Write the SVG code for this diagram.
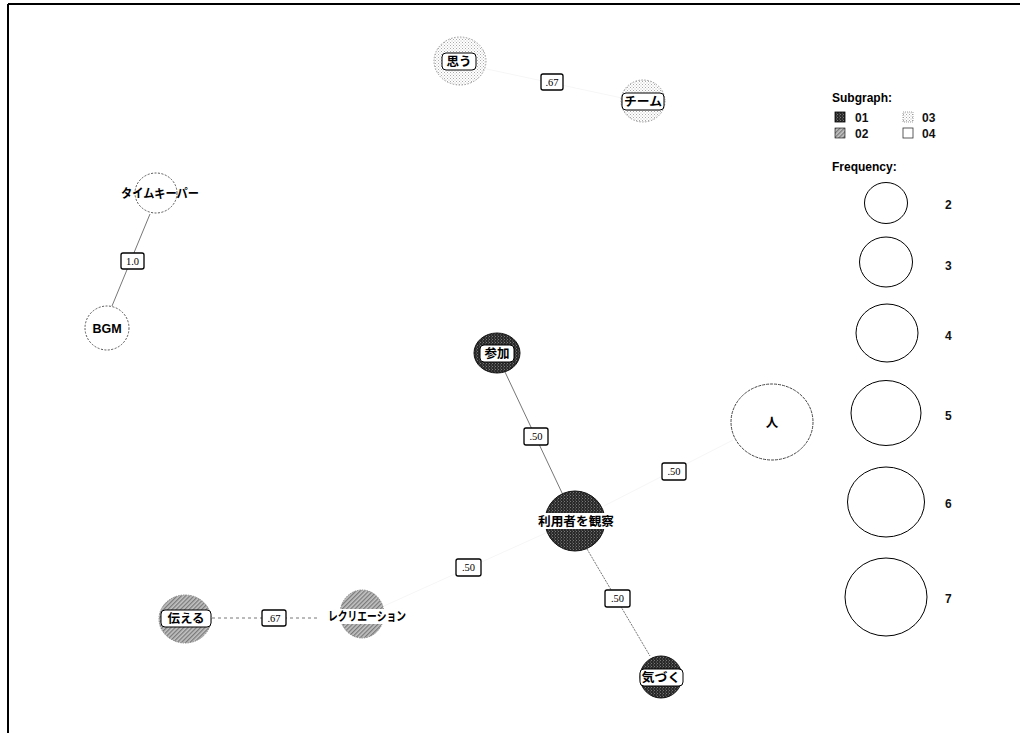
<svg xmlns="http://www.w3.org/2000/svg" width="1020" height="733" viewBox="0 0 1020 733">
<style>
.nt{font-family:"Liberation Sans","Noto Sans CJK JP",sans-serif;font-size:12.5px;font-weight:bold;fill:#000;text-anchor:middle}
.el{font-family:"Liberation Serif",serif;font-size:10.5px;fill:#000;text-anchor:middle}
.lb{fill:#fff;stroke:#000;stroke-width:1.3}
.tb{fill:#fff;stroke:#000;stroke-width:1}
.edge{stroke:#777;stroke-width:1;fill:none}
.faint{stroke:#f6f6f6;stroke-width:1;fill:none}
.lg{font-family:"Liberation Sans",sans-serif;font-size:12px;font-weight:bold;fill:#111}
.lgh{font-family:"Liberation Sans",sans-serif;font-size:12px;font-weight:bold;fill:#000}
.fc{fill:none;stroke:#000;stroke-width:1}
.n03{fill:url(#p03);stroke:#999;stroke-width:1;stroke-dasharray:1.5 1.5}
.n04{fill:#fff;stroke:#555;stroke-width:1;stroke-dasharray:2 1.5}
.n01{fill:url(#p01);stroke:#111;stroke-width:1}
.n02{fill:url(#p02);stroke:#888;stroke-width:1;stroke-dasharray:1.5 1}
</style>
<defs>
<pattern id="p01" width="3" height="3" patternUnits="userSpaceOnUse">
<rect width="3" height="3" fill="#2a2a2a"/>
<rect x="0" y="0" width="1" height="1" fill="#777"/>
<rect x="2" y="1.5" width="1" height="1" fill="#666"/>
</pattern>
<pattern id="p02" width="3" height="3" patternUnits="userSpaceOnUse" patternTransform="rotate(45)">
<rect width="3" height="3" fill="#c4c4c4"/>
<rect width="1.3" height="3" fill="#7a7a7a"/>
</pattern>
<pattern id="p03" width="3" height="3" patternUnits="userSpaceOnUse">
<rect width="3" height="3" fill="#fff"/>
<rect x="0" y="0" width="1" height="1" fill="#aaa"/>
<rect x="1.5" y="1.5" width="1" height="1" fill="#bbb"/>
</pattern>
</defs>
<rect width="1020" height="733" fill="#fff"/>
<path d="M8 4 H1020 M8 4 V733" stroke="#000" stroke-width="2" fill="none"/>

<g id="connectors">
<line class="edge" x1="150" y1="214" x2="112" y2="306"/>
<line class="edge" x1="505" y1="372" x2="563" y2="495"/>
<line class="edge" x1="587" y1="549" x2="650" y2="656" stroke-dasharray="2 1"/>
<line class="edge" x1="212" y1="618" x2="320" y2="618" stroke-dasharray="3 3"/>
<line class="faint" x1="482" y1="68" x2="622" y2="98"/>
<line class="faint" x1="604" y1="506" x2="733" y2="440"/>
<line class="faint" x1="548" y1="532" x2="384" y2="606"/>
<g id="el1"><rect class="lb" x="541" y="74" width="22" height="16" rx="2"/><text class="el" x="552" y="86">.67</text></g>
<g id="el2"><rect class="lb" x="121" y="253" width="23" height="16" rx="2"/><text class="el" x="132.5" y="265">1.0</text></g>
<g id="el3"><rect class="lb" x="524" y="428" width="24" height="17" rx="2"/><text class="el" x="536" y="440">.50</text></g>
<g id="el4"><rect class="lb" x="662" y="463" width="24" height="17" rx="2"/><text class="el" x="674" y="475">.50</text></g>
<g id="el5"><rect class="lb" x="456" y="559" width="25" height="17" rx="2"/><text class="el" x="468.5" y="571">.50</text></g>
<g id="el6"><rect class="lb" x="605" y="590" width="25" height="17" rx="2"/><text class="el" x="617.5" y="602">.50</text></g>
<g id="el7"><rect class="lb" x="262" y="610" width="24" height="16" rx="2"/><text class="el" x="274" y="622">.67</text></g>
</g>

<g id="node-omou"><ellipse class="n03" cx="460" cy="61" rx="26" ry="24"/><rect class="tb" x="442" y="53" width="34" height="17" rx="4"/><text class="nt" x="459" y="66">思う</text></g>
<g id="node-team"><ellipse class="n03" cx="643" cy="101" rx="22" ry="21"/><rect class="tb" x="622" y="93" width="42" height="17" rx="4"/><text class="nt" x="643" y="106" textLength="38" lengthAdjust="spacingAndGlyphs">チーム</text></g>
<g id="node-timekeeper"><ellipse class="n04" cx="156" cy="193" rx="21" ry="20"/><text class="nt" x="160" y="198" textLength="78" lengthAdjust="spacingAndGlyphs">タイムキーパー</text></g>
<g id="node-bgm"><ellipse class="n04" cx="107" cy="328" rx="22" ry="22"/><text class="nt" x="107" y="333" font-size="11">BGM</text></g>
<g id="node-sanka"><ellipse class="n01" cx="497" cy="353" rx="23" ry="20"/><rect class="tb" x="480" y="345" width="34" height="17" rx="4"/><text class="nt" x="497" y="358">参加</text></g>
<g id="node-riyousha"><ellipse class="n01" cx="575" cy="521" rx="30" ry="30"/><rect fill="#fff" x="538" y="513" width="76" height="16"/><text class="nt" x="576" y="526" textLength="76" lengthAdjust="spacingAndGlyphs">利用者を観察</text></g>
<g id="node-kizuku"><ellipse class="n01" cx="661" cy="677" rx="21" ry="21"/><rect class="tb" x="640" y="669" width="43" height="17" rx="4"/><text class="nt" x="661" y="682" textLength="39" lengthAdjust="spacingAndGlyphs">気づく</text></g>
<g id="node-hito"><ellipse cx="772" cy="422" rx="41" ry="38" fill="#fff" stroke="#444" stroke-width="1" stroke-dasharray="3 1"/><text class="nt" x="772" y="427">人</text></g>
<g id="node-tsutaeru"><ellipse class="n02" cx="185" cy="619" rx="26" ry="24"/><rect class="tb" x="161" y="610" width="50" height="17" rx="4"/><text class="nt" x="186" y="623">伝える</text></g>
<g id="node-recreation"><ellipse class="n02" cx="362" cy="614" rx="22" ry="24"/><rect fill="#fff" x="328" y="609" width="78" height="15"/><text class="nt" x="367" y="621" textLength="78" lengthAdjust="spacingAndGlyphs">レクリエーション</text></g>

<g id="legend">
<text class="lgh" x="832" y="102">Subgraph:</text>
<rect x="835" y="112" width="10" height="10" fill="url(#p01)" stroke="#000" stroke-width="0.8"/><text class="lg" x="855" y="122">01</text>
<rect x="903" y="112" width="10" height="10" fill="url(#p03)" stroke="#888" stroke-width="0.8" stroke-dasharray="1 1"/><text class="lg" x="922" y="122">03</text>
<rect x="835" y="128" width="10" height="10" fill="url(#p02)" stroke="#000" stroke-width="0.6"/><text class="lg" x="855" y="138">02</text>
<rect x="903" y="128" width="10" height="10" fill="#fff" stroke="#333" stroke-width="0.8"/><text class="lg" x="922" y="138">04</text>
<text class="lgh" x="832" y="171">Frequency:</text>
<ellipse class="fc" cx="886" cy="203" rx="21.5" ry="20.5"/><text class="lg" x="945" y="209">2</text>
<ellipse class="fc" cx="886" cy="262" rx="26.5" ry="25"/><text class="lg" x="945" y="270">3</text>
<ellipse class="fc" cx="887" cy="333" rx="31" ry="29"/><text class="lg" x="945" y="340">4</text>
<ellipse class="fc" cx="886" cy="413" rx="35" ry="32.5"/><text class="lg" x="945" y="420">5</text>
<ellipse class="fc" cx="886" cy="502" rx="38.5" ry="35"/><text class="lg" x="945" y="508">6</text>
<ellipse class="fc" cx="886" cy="597" rx="41" ry="39"/><text class="lg" x="945" y="603">7</text>
</g>
</svg>
